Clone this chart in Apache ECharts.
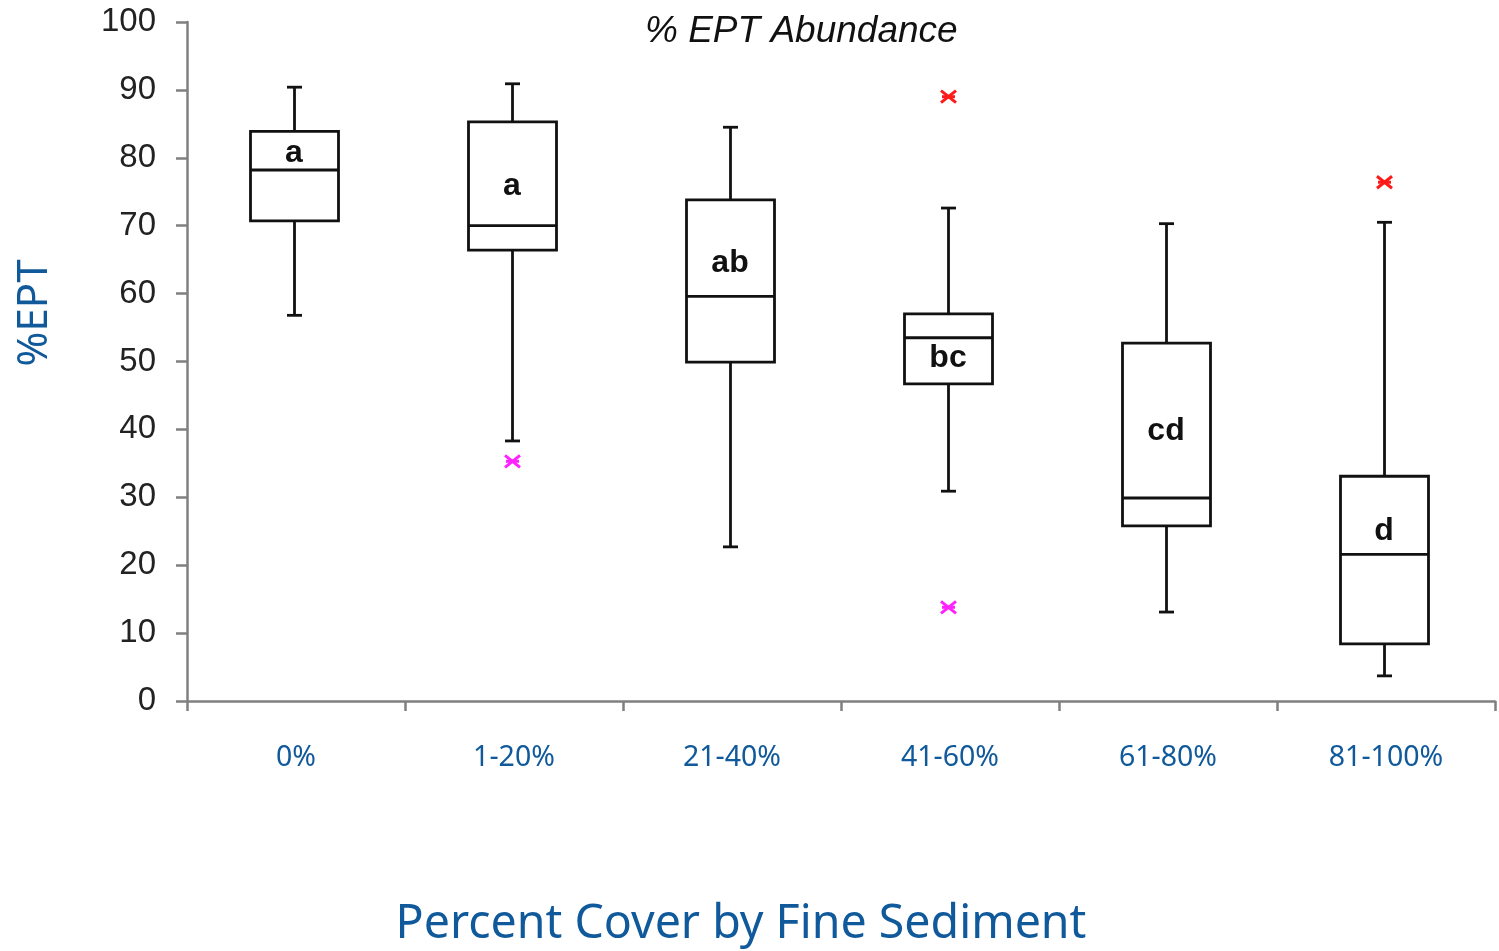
<!DOCTYPE html>
<html>
<head>
<meta charset="utf-8">
<script src="https://cdn.jsdelivr.net/npm/echarts@6/dist/echarts.min.js"></script>
<style>html,body{margin:0;padding:0;background:#fff;}#chart{width:1499px;height:951px;}</style>
</head>
<body>
<div id="chart"></div>
<script>
const categories = ['0%', '1-20%', '21-40%', '41-60%', '61-80%', '81-100%'];
const whiskerLow = [56.8, 38.3, 22.7, 30.9, 13.1, 3.7];
const q1 = [70.7, 66.4, 49.9, 46.7, 25.8, 8.4];
const median = [78.2, 70.0, 59.6, 53.5, 29.9, 21.6];
const q3 = [83.9, 85.3, 73.8, 57.0, 52.7, 33.1];
const whiskerHigh = [90.4, 90.9, 84.5, 72.6, 70.3, 70.5];
const groupLetters = ['a', 'a', 'ab', 'bc', 'cd', 'd'];
const letterValue = [80.7, 75.8, 64.5, 50.5, 39.8, 25.0];
const outliersRed = [[3, 89.0], [5, 76.4]];
const outliersMagenta = [[1, 35.3], [3, 13.8]];
const yTicks = [0, 10, 20, 30, 40, 50, 60, 70, 80, 90, 100];

const BLUE = '#10599b';
const boxData = categories.map((c, i) => [i, whiskerLow[i], q1[i], median[i], q3[i], whiskerHigh[i]]);
const letterData = categories.map((c, i) => [i, letterValue[i], groupLetters[i]]);

function renderBox(params, api) {
  const i = api.value(0);
  const pLow = api.coord([i, api.value(1)]);
  const pQ1 = api.coord([i, api.value(2)]);
  const pMed = api.coord([i, api.value(3)]);
  const pQ3 = api.coord([i, api.value(4)]);
  const pHigh = api.coord([i, api.value(5)]);
  const cx = pMed[0] - 1.5;
  const hw = 44, cap = 7.5;
  const st = { stroke: '#111', lineWidth: 2.8, fill: null };
  return {
    type: 'group',
    children: [
      { type: 'rect', shape: { x: cx - hw, y: pQ3[1], width: 2 * hw, height: pQ1[1] - pQ3[1] }, style: { stroke: '#111', lineWidth: 2.8, fill: '#fff' } },
      { type: 'line', shape: { x1: cx - hw, y1: pMed[1], x2: cx + hw, y2: pMed[1] }, style: st },
      { type: 'line', shape: { x1: cx, y1: pQ3[1], x2: cx, y2: pHigh[1] }, style: st },
      { type: 'line', shape: { x1: cx, y1: pQ1[1], x2: cx, y2: pLow[1] }, style: st },
      { type: 'line', shape: { x1: cx - cap, y1: pHigh[1], x2: cx + cap, y2: pHigh[1] }, style: st },
      { type: 'line', shape: { x1: cx - cap, y1: pLow[1], x2: cx + cap, y2: pLow[1] }, style: st }
    ]
  };
}

function makeStar(color) {
  return function (params, api) {
    const p = api.coord([api.value(0), api.value(1)]);
    const x = p[0] - 1.5, y = p[1];
    const w = 7.5, h = 6;
    const st = { stroke: color, lineWidth: 3, fill: null };
    return {
      type: 'group',
      children: [
        { type: 'line', shape: { x1: x - w, y1: y - h, x2: x + w, y2: y + h }, style: st },
        { type: 'line', shape: { x1: x - w, y1: y + h, x2: x + w, y2: y - h }, style: st },
        { type: 'line', shape: { x1: x - w + 1, y1: y, x2: x + w - 1, y2: y }, style: st }
      ]
    };
  };
}

function renderLetter(params, api) {
  const p = api.coord([api.value(0), api.value(1)]);
  return {
    type: 'text',
    x: p[0] - 2, y: p[1],
    style: {
      text: groupLetters[params.dataIndex],
      font: 'bold 32px "Liberation Sans", Arial, sans-serif',
      fill: '#111', align: 'center', verticalAlign: 'middle'
    }
  };
}

const chart = echarts.init(document.getElementById('chart'), null, { renderer: 'canvas' });
chart.setOption({
  animation: false,
  backgroundColor: '#fff',
  title: {
    text: '% EPT Abundance',
    left: 640, top: 8,
    textStyle: { fontFamily: '"Liberation Sans", Arial, sans-serif', fontStyle: 'italic', fontWeight: 'normal', fontSize: 37, color: '#111' }
  },
  grid: { left: 187, right: 4, top: 22, bottom: 250, containLabel: false },
  xAxis: {
    type: 'category',
    data: categories,
    boundaryGap: true,
    axisLine: { lineStyle: { color: '#808080', width: 2.5 } },
    axisTick: { show: true, inside: false, length: 10, alignWithLabel: false, lineStyle: { color: '#808080', width: 2.5 } },
    axisLabel: { margin: 42, color: BLUE, fontSize: 28.5, fontFamily: '"Noto Sans", "DejaVu Sans", sans-serif' },
    splitLine: { show: false }
  },
  yAxis: {
    type: 'value',
    min: 0, max: 100, interval: 10,
    axisLine: { show: true, lineStyle: { color: '#808080', width: 2.5 } },
    axisTick: { show: true, inside: false, length: 11, lineStyle: { color: '#808080', width: 2.5 } },
    axisLabel: { margin: 31, color: '#222', fontSize: 33, fontFamily: '"Liberation Sans", Arial, sans-serif',
      formatter: v => yTicks.indexOf(v) >= 0 ? String(v) : '' },
    splitLine: { show: false }
  },
  graphic: [
    { type: 'text', x: 35, y: 313, rotation: Math.PI / 2, style: { text: '%EPT', font: '42px "Noto Sans", "DejaVu Sans", sans-serif', fill: BLUE, align: 'center', verticalAlign: 'middle' } },
    { type: 'text', x: 741, y: 925, style: { text: 'Percent Cover by Fine Sediment', font: '46.5px "Noto Sans", "DejaVu Sans", sans-serif', fill: BLUE, align: 'center', verticalAlign: 'middle' } }
  ],
  series: [
    { type: 'custom', name: 'box', data: boxData, renderItem: renderBox, encode: { x: 0, y: [1, 2, 3, 4, 5] }, z: 2 },
    { type: 'custom', name: 'letters', data: letterData, renderItem: renderLetter, encode: { x: 0, y: 1 }, z: 3 },
    { type: 'custom', name: 'outRed', data: outliersRed, renderItem: makeStar('#ff1a1a'), encode: { x: 0, y: 1 }, z: 3 },
    { type: 'custom', name: 'outMag', data: outliersMagenta, renderItem: makeStar('#ff22ff'), encode: { x: 0, y: 1 }, z: 3 }
  ]
});
</script>
</body>
</html>
